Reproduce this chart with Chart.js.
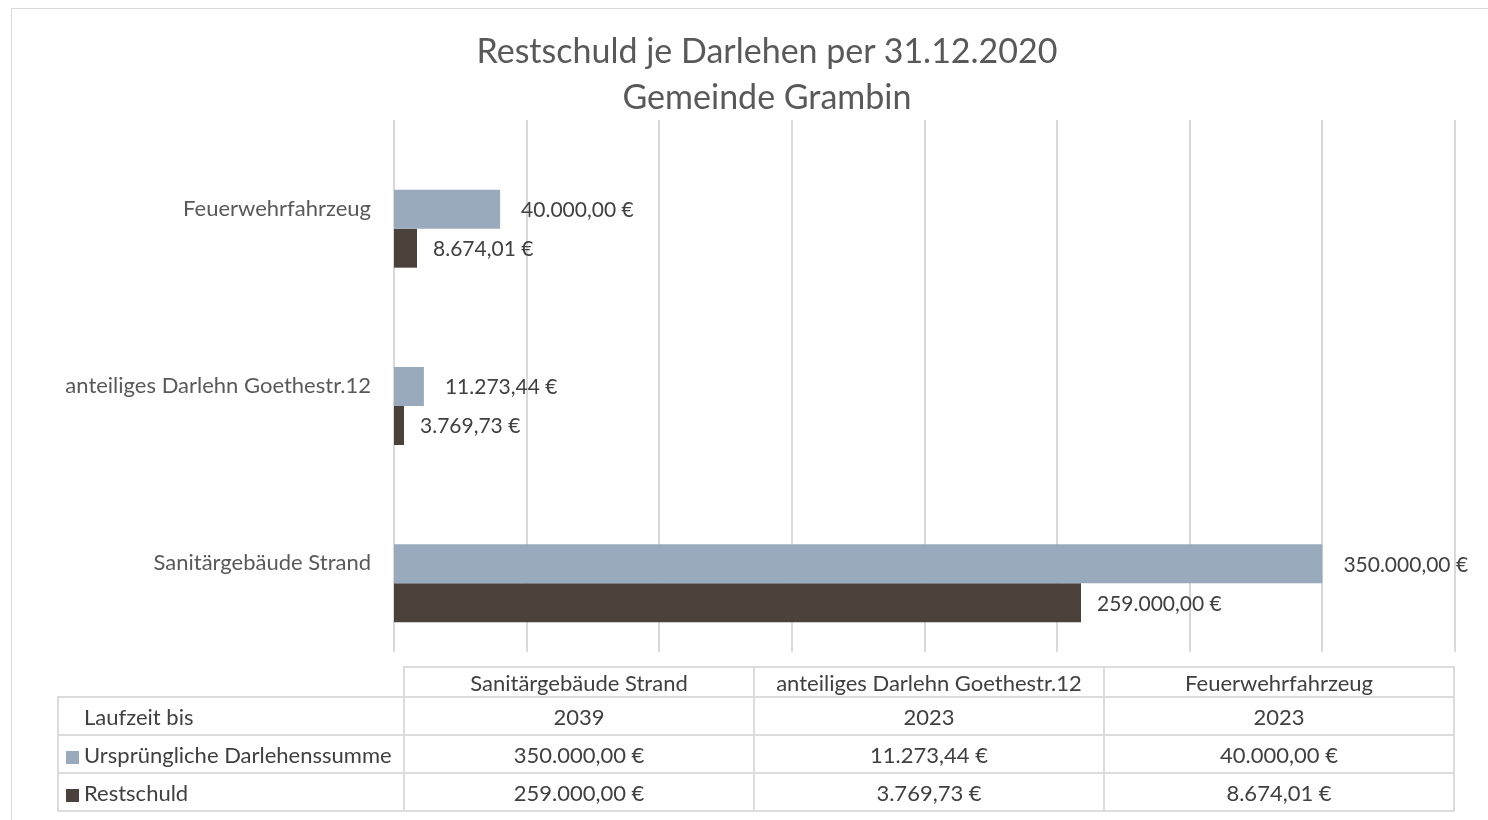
<!DOCTYPE html>
<html>
<head>
<meta charset="utf-8">
<script src="https://cdn.jsdelivr.net/npm/chart.js@4.4.1/dist/chart.umd.min.js"></script>
<style>
  html, body { margin: 0; padding: 0; background: #fff; }
  #wrap { position: relative; width: 1488px; height: 820px; overflow: hidden; font-family: Lato, "Open Sans", sans-serif; }
  #frame { position: absolute; left: 11px; top: 8px; width: 1500px; height: 840px; border: 1px solid #d9d9d9; box-sizing: border-box; }
  #chart { position: absolute; left: 0; top: 0; }
  #title { position: absolute; left: 67px; width: 1400px; top: 27px; text-align: center; color: #595959; font-size: 34px; line-height: 46px; }
  #tbl { position: absolute; left: 57px; top: 666px; border-collapse: collapse; color: #404040; font-size: 22px; }
  #tbl td { border: 2px solid #dcdcdc; padding: 0; text-align: center; white-space: nowrap; }
  #tbl td.blank { border-top: none; border-left: none; }
  #tbl tr.head td { height: 28px; }
  #tbl tr.row td { height: 36px; }
  #tbl td.lead { text-align: left; width: 344px; }
  #tbl td.col { width: 348px; }
  .key { display: inline-block; width: 13px; height: 13px; margin: 0 5px 0 7px; vertical-align: -1px; }
</style>
</head>
<body>
<div id="wrap">
  <div id="frame"></div>
  <canvas id="chart" width="1488" height="820"></canvas>
  <div id="title"></div>
  <table id="tbl"></table>
</div>
<script>
// categories, bottom to top as in the table
var titleLines = ['Restschuld je Darlehen per 31.12.2020', 'Gemeinde Grambin'];
var loanNames = ['Sanitärgebäude Strand', 'anteiliges Darlehn Goethestr.12', 'Feuerwehrfahrzeug'];
var termEnd = ['2039', '2023', '2023'];
var originalSum = [350000.00, 11273.44, 40000.00];
var remainingDebt = [259000.00, 3769.73, 8674.01];
var seriesNames = ['Ursprüngliche Darlehenssumme', 'Restschuld'];
var seriesColors = ['#98aabc', '#4a413b'];
var xTicks = [0, 50000, 100000, 150000, 200000, 250000, 300000, 350000, 400000];

function euro(v) {
  return v.toLocaleString('de-DE', { minimumFractionDigits: 2, maximumFractionDigits: 2 }) + ' €';
}

document.getElementById('title').innerHTML = titleLines.join('<br>');

// data table under the chart
var tbl = document.getElementById('tbl');
var html = '<tr class="head"><td class="blank lead"></td>';
loanNames.forEach(function (n) { html += '<td class="col">' + n + '</td>'; });
html += '</tr><tr class="row"><td class="lead"><span class="key"></span>Laufzeit bis</td>';
termEnd.forEach(function (t) { html += '<td>' + t + '</td>'; });
html += '</tr><tr class="row"><td class="lead"><span class="key" style="background:' + seriesColors[0] + '"></span>' + seriesNames[0] + '</td>';
originalSum.forEach(function (v) { html += '<td>' + euro(v) + '</td>'; });
html += '</tr><tr class="row"><td class="lead"><span class="key" style="background:' + seriesColors[1] + '"></span>' + seriesNames[1] + '</td>';
remainingDebt.forEach(function (v) { html += '<td>' + euro(v) + '</td>'; });
html += '</tr>';
tbl.innerHTML = html;

var gridShift = 20; // gridlines and category labels sit a little higher than the bar bands

var chart_restschuld = new Chart(document.getElementById('chart'), {
    type: 'bar',
    data: {
        labels: loanNames,
        datasets: [
            {
                label: seriesNames[0],
                data: originalSum,
                backgroundColor: seriesColors[0],
                labelGap: 21
            },
            {
                label: seriesNames[1],
                data: remainingDebt,
                backgroundColor: seriesColors[1],
                labelGap: 16
            }
        ]
    },
    options: {
        indexAxis: 'y',
        animation: false,
        responsive: false,
        maintainAspectRatio: false,
        categoryPercentage: 0.44,
        barPercentage: 1,
        layout: {
            padding: { top: 140, right: 33, bottom: 148, left: 0 }
        },
        plugins: {
            legend: { display: false },
            tooltip: { enabled: false },
            title: { display: false }
        },
        scales: {
            x: {
                type: 'linear',
                display: false,
                min: 0,
                max: 400000,
                afterBuildTicks: function (scale) {
                    scale.ticks = xTicks.map(function (v) { return { value: v }; });
                }
            },
            y: {
                reverse: true,
                afterFit: function (scale) { scale.width = 394; },
                ticks: {
                    color: '#595959',
                    padding: 23,
                    labelOffset: -gridShift,
                    font: { family: 'Lato', size: 22 }
                },
                grid: { display: false, drawTicks: false },
                border: { display: false }
            }
        }
    },
    plugins: [{
        id: 'gridAndLabels',
        beforeDatasetsDraw: function (chart) {
            var ctx = chart.ctx, area = chart.chartArea, x = chart.scales.x;
            ctx.save();
            ctx.strokeStyle = '#d9d9d9';
            ctx.lineWidth = 2;
            xTicks.forEach(function (v) {
                var px = Math.round(x.getPixelForValue(v));
                ctx.beginPath();
                ctx.moveTo(px, area.top - gridShift);
                ctx.lineTo(px, area.bottom - gridShift);
                ctx.stroke();
            });
            ctx.restore();
        },
        afterDatasetsDraw: function (chart) {
            var ctx = chart.ctx;
            ctx.save();
            ctx.fillStyle = '#404040';
            ctx.font = '21px Lato';
            ctx.textAlign = 'left';
            ctx.textBaseline = 'middle';
            chart.data.datasets.forEach(function (ds, i) {
                chart.getDatasetMeta(i).data.forEach(function (bar, j) {
                    ctx.fillText(euro(ds.data[j]), bar.x + ds.labelGap, bar.y + 1);
                });
            });
            ctx.restore();
        }
    }]
});
</script>
</body>
</html>
